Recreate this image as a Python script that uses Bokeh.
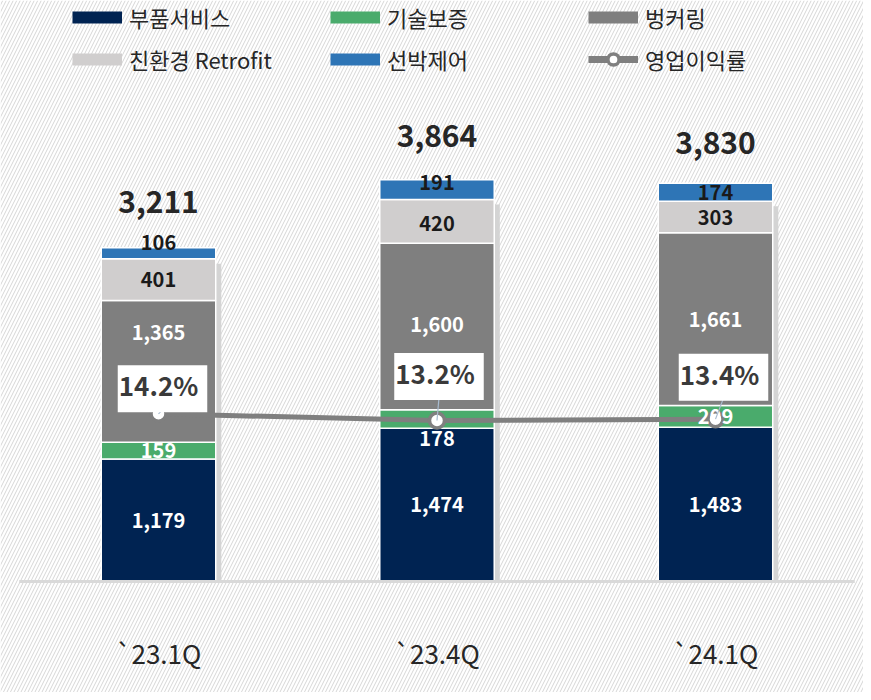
import numpy as np
from bokeh.plotting import figure
from bokeh.models import ColumnDataSource, Range1d, BoxAnnotation, Legend, LegendItem
from bokeh.core.properties import value
from bokeh.embed import file_html
from bokeh.resources import INLINE

# ---------------- data ----------------
categories = ["`23.1Q", "`23.4Q", "`24.1Q"]
parts_service = [1179, 1474, 1483]      # 부품서비스
tech_warranty = [159, 178, 209]         # 기술보증
bunkering = [1365, 1600, 1661]          # 벙커링
eco_retrofit = [401, 420, 303]          # 친환경 Retrofit
ship_control = [106, 191, 174]          # 선박제어
totals = [3211, 3864, 3830]
op_margin = [14.2, 13.2, 13.4]          # 영업이익률 (%)

series_names = ["부품서비스", "기술보증", "벙커링", "친환경 Retrofit", "선박제어"]
series_values = [parts_service, tech_warranty, bunkering, eco_retrofit, ship_control]
margin_label = "영업이익률"

# ---------------- styles ----------------
colors = ["#002352", "#4aab6c", "#7f7f7f", "#d0cece", "#2e75b6"]
label_colors = ["white", "white", "white", "#1a1a1a", "#1a1a1a"]
label_nudge = [[0, 0, 0], [0, 20, 0], [-39, -2, 0], [0, 2, 0], [-11, -7, 0]]
total_nudge = [-46, -44, -40]
pct_box_dx = [4, 2, 8]
pct_box_dy = [-25, -44, -42]
FONT = "Noto Sans CJK KR"

W, H = 863, 692
PX_PER_UNIT = 0.104
PX_PER_PCT = 6.7
PX_PER_CAT = 278.5
base_y = 581
first_x = 158
marker_y = 413.3

y_start = -(H - base_y) / PX_PER_UNIT
y_end = base_y / PX_PER_UNIT
p_end = op_margin[0] + marker_y / PX_PER_PCT
p_start = op_margin[0] - (H - marker_y) / PX_PER_PCT
x_start = -first_x / PX_PER_CAT
x_end = (W - first_x) / PX_PER_CAT

p = figure(width=W, height=H, output_backend="svg", toolbar_location=None,
           x_range=Range1d(x_start, x_end), y_range=Range1d(y_start, y_end),
           x_axis_location=None, y_axis_location=None,
           min_border=0, min_border_left=0, min_border_right=0,
           min_border_top=0, min_border_bottom=0)
p.extra_y_ranges = {"pct": Range1d(p_start, p_end)}
p.grid.visible = False
p.outline_line_color = None
p.background_fill_color = "white"
p.border_fill_color = "white"

# hatch background
p.add_layout(BoxAnnotation(fill_alpha=0, line_alpha=0, hatch_pattern="/",
                           hatch_color="#d6d6d6", hatch_weight=1, hatch_scale=7,
                           level="underlay"))

xs = np.arange(len(categories), dtype=float)
bar_w = 0.411
vals = np.array(series_values, dtype=float)
cum = np.cumsum(vals, axis=0)
data = {"x": xs, "xs": xs + 0.02, "shadow_top": cum[3] - 5 / PX_PER_UNIT}
for i in range(5):
    data[f"s{i}"] = vals[i]
src = ColumnDataSource(data)

# shadow
p.vbar(x="xs", top="shadow_top", bottom=0, width=bar_w,
       fill_color="#d4d4d4", line_color=None, source=src)

# stacked bars
p.vbar_stack([f"s{i}" for i in range(5)], x="x", width=bar_w, color=colors,
             line_color="white", line_width=1.5, source=src)

# baseline
p.segment(x0=[xs[0] - 0.5], y0=[0], x1=[xs[-1] + 0.5], y1=[0],
          line_color="#d9d9d9", line_width=3)

# margin line and markers
msrc = ColumnDataSource(dict(x=xs, m=op_margin,
                             lab=[f"{v:.1f}%" for v in op_margin],
                             dx=pct_box_dx, dy=pct_box_dy))
p.line(x="x", y="m", source=msrc, y_range_name="pct", line_color="#7f7f7f", line_width=5)
p.scatter(x="x", y="m", source=msrc, y_range_name="pct", size=15, marker="circle",
          fill_color="white", line_color="#7f7f7f", line_width=3.5)

# segment labels
for i in range(5):
    mid = cum[i] - vals[i] / 2
    s = ColumnDataSource(dict(x=xs, y=mid,
                              t=[f"{int(v):,}" for v in vals[i]], dy=label_nudge[i]))
    p.text(x="x", y="y", text="t", source=s, y_offset="dy", text_align="center",
           text_baseline="middle", text_font=value(FONT), text_font_size="20px",
           text_font_style="bold", text_color=label_colors[i])

# leader lines
lsrc = ColumnDataSource(dict(x0=xs, m=op_margin,
                             x1=xs + np.array(pct_box_dx) / PX_PER_CAT,
                             ytop=[m - (dy + 21) / PX_PER_PCT for m, dy in zip(op_margin, pct_box_dy)]))
p.segment(x0="x0", y0="m", x1="x1", y1="ytop", source=lsrc,
          y_range_name="pct", line_color="#a9bcd0", line_width=1.2)

# percent boxes
p.text(x="x", y="m", text="lab", source=msrc, y_range_name="pct",
       x_offset="dx", y_offset="dy", text_align="center", text_baseline="middle",
       text_font=value(FONT), text_font_size="26px", text_font_style="bold",
       text_color="#3a3a3a", background_fill_color="white", padding=(1, 9, 1, 9))

# totals
tsrc = ColumnDataSource(dict(x=xs, y=totals, t=[f"{v:,}" for v in totals], dy=total_nudge))
p.text(x="x", y="y", text="t", source=tsrc, y_offset="dy", text_align="center",
       text_baseline="middle", text_font=value(FONT), text_font_size="30px",
       text_font_style="bold", text_color="#262626")

# category labels
csrc = ColumnDataSource(dict(x=xs, y=[0] * 3, t=categories))
p.text(x="x", y="y", text="t", source=csrc, y_offset=71, text_align="center",
       text_baseline="middle", text_font=value(FONT), text_font_size="26px",
       text_color="#262626")

# legend (hidden-data renderers for swatches)
items = []
for name, c in zip(series_names, colors):
    r = p.line(x=[np.nan], y=[np.nan], line_color=c, line_width=12)
    items.append(LegendItem(label=name, renderers=[r]))
rl = p.line(x=[np.nan], y=[np.nan], line_color="#7f7f7f", line_width=7)
rs = p.scatter(x=[np.nan], y=[np.nan], marker="circle", fill_color="white",
               line_color="#7f7f7f", line_width=3.5)
items.append(LegendItem(label=margin_label, renderers=[rl, rs]))
# legend fills column by column: reorder so rows read left-to-right
order = [0, 3, 1, 4, 2, 5]
legend = Legend(items=[items[k] for k in order], ncols=3, location=(72, 617),
                margin=0, padding=0,
                glyph_width=50, glyph_height=28, label_height=28, label_width=191,
                label_standoff=7, spacing=10,
                label_text_font=FONT, label_text_font_size="22px",
                label_text_color="#262626",
                background_fill_alpha=0, border_line_alpha=0)
p.add_layout(legend)

open("out.html", "w").write(file_html(p, INLINE))
